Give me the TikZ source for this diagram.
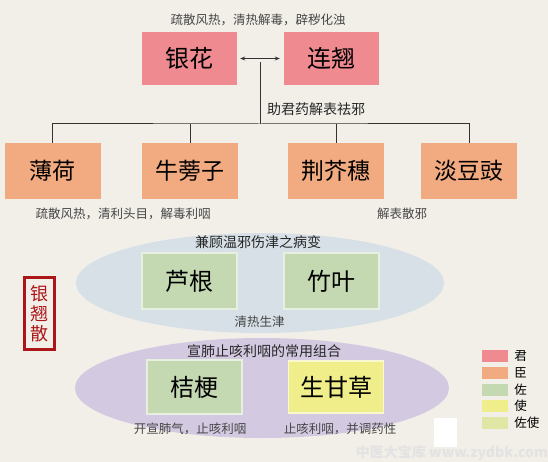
\documentclass[tikz,border=0pt]{standalone}
\usepackage{fontspec}
\setmainfont{Noto Sans CJK SC}
\usetikzlibrary{arrows.meta,positioning}
\definecolor{paper}{RGB}{242,239,233}
\definecolor{junc}{RGB}{239,138,144}
\definecolor{chenc}{RGB}{242,170,128}
\definecolor{zuoc}{RGB}{196,217,178}
\definecolor{shic}{RGB}{240,238,138}
\definecolor{zuoshic}{RGB}{224,230,163}
\definecolor{mistc}{RGB}{214,224,230}
\definecolor{lilacc}{RGB}{211,202,226}
\definecolor{sealc}{RGB}{172,22,24}
\definecolor{notec}{RGB}{70,70,70}
\tikzset{herb/.style={%
        rectangle,
        inner sep=0pt,
        anchor=center,
        font=\fontsize{24}{24}\selectfont}}
\tikzset{jun/.style={herb,fill=junc,minimum width=95pt,minimum height=53pt}}
\tikzset{chen/.style={herb,fill=chenc,minimum width=96pt,minimum height=56pt,font=\fontsize{23}{23}\selectfont}}
\tikzset{zuo/.style={herb,fill=zuoc,draw=zuoc!40!white,line width=1.5pt,minimum width=95pt,minimum height=56pt}}
\tikzset{shi/.style={herb,fill=shic,draw=shic!40!white,line width=1.5pt,minimum width=95pt,minimum height=52pt}}
\tikzset{note/.style={inner sep=0pt,text=notec,font=\fontsize{12.5}{12.5}\selectfont}}
\tikzset{head/.style={inner sep=0pt,text=black!85,font=\fontsize{14}{14}\selectfont}}
\tikzset{link/.style={line width=1pt,draw=black!80,>={Stealth[length=5pt,width=4pt]}}}
\tikzset{swatch/.style={rectangle,inner sep=0pt,minimum width=26pt,minimum height=12pt}}
\tikzset{keytext/.style={inner sep=0pt,anchor=west,font=\fontsize{12.5}{12.5}\selectfont}}

\begin{document}
\begin{tikzpicture}[x=1pt,y=-1pt]
  \fill [paper] (0,0) rectangle (548,462);
  \useasboundingbox (0,0) rectangle (548,462);
  % ellipses behind the herbs
  \fill [mistc] (260,283) ellipse [x radius=184pt, y radius=50pt];
  \fill [lilacc] (262,388) ellipse [x radius=187pt, y radius=50pt];
  % jun
  \node [note] (junnote) at (258,20) {疏散风热，清热解毒，辟秽化浊};
  \node [jun] (yinhua) at (189.5,58.5) {银花};
  \node [jun] (lianqiao) at (331.5,58.5) {连翘};
  % chen
  \node [chen] (bohe) at (52.5,171) {薄荷};
  \node [chen] (niubang) at (190,171) {牛蒡子};
  \node [chen] (jingjie) at (336,171) {荆芥穗};
  \node [chen] (douchi) at (469,171) {淡豆豉};
  \node [head,anchor=west] (chenhead) at (267,109) {助君药解表祛邪};
  \node [note] (chennote1) at (123,214) {疏散风热，清利头目，解毒利咽};
  \node [note] (chennote2) at (402,214) {解表散邪};
  \coordinate (hub) at (260,62);
  \coordinate (fork) at (260,124);
  \draw [link,<->] ([xshift=3pt]yinhua.east) -- ([xshift=-4pt]lianqiao.west);
  \draw [link] (hub) -- (fork);
  \draw [link] (bohe.north) |- (fork) -| (douchi.north);
  \draw [link] (niubang.north) -- (niubang.north |- fork);
  \draw [link] (jingjie.north) -- (jingjie.north |- fork);
  % zuo
  \node [head] (zuohead) at (258,242) {兼顾温邪伤津之病变};
  \node [zuo] (lugen) at (189.5,281) {芦根};
  \node [zuo] (zhuye) at (331.5,281) {竹叶};
  \node [note] (zuonote) at (259.5,322) {清热生津};
  % zuo shi
  \node [head] (shihead) at (264,351) {宣肺止咳利咽的常用组合};
  \node [zuo,minimum height=54pt] (jiegeng) at (194.5,387) {桔梗};
  \node [shi] (gancao) at (336,387) {生甘草};
  \node [note] (jiegengnote) at (190,429) {开宣肺气，止咳利咽};
  \node [note] (gancaonote) at (340,429) {止咳利咽，并调药性};
  % name of the formula
  \node [draw=sealc,line width=3pt,text=sealc,minimum width=30pt,minimum height=72pt,
         align=center,inner sep=0pt,font=\fontsize{18}{20}\selectfont] (fangming) at (39.5,313.5) {银\\翘\\散};
  % legend
  \foreach \col/\txt [count=\i] in {junc/君,chenc/臣,zuoc/佐,shic/使,zuoshic/佐使}{
    \node [swatch,fill=\col] (key\i) at (495,339.25+16.75*\i) {};
    \node [keytext,right=6pt of key\i] {\txt};
  }
  % scan leftovers
  \fill [white] (434,418) rectangle (457,447);
  \node [inner sep=0pt,anchor=east,text=black!11,font=\bfseries\fontsize{14}{14}\selectfont] (wmark) at (548,453) {中医大宝库 www.zydbk.com};
\end{tikzpicture}
\end{document}
